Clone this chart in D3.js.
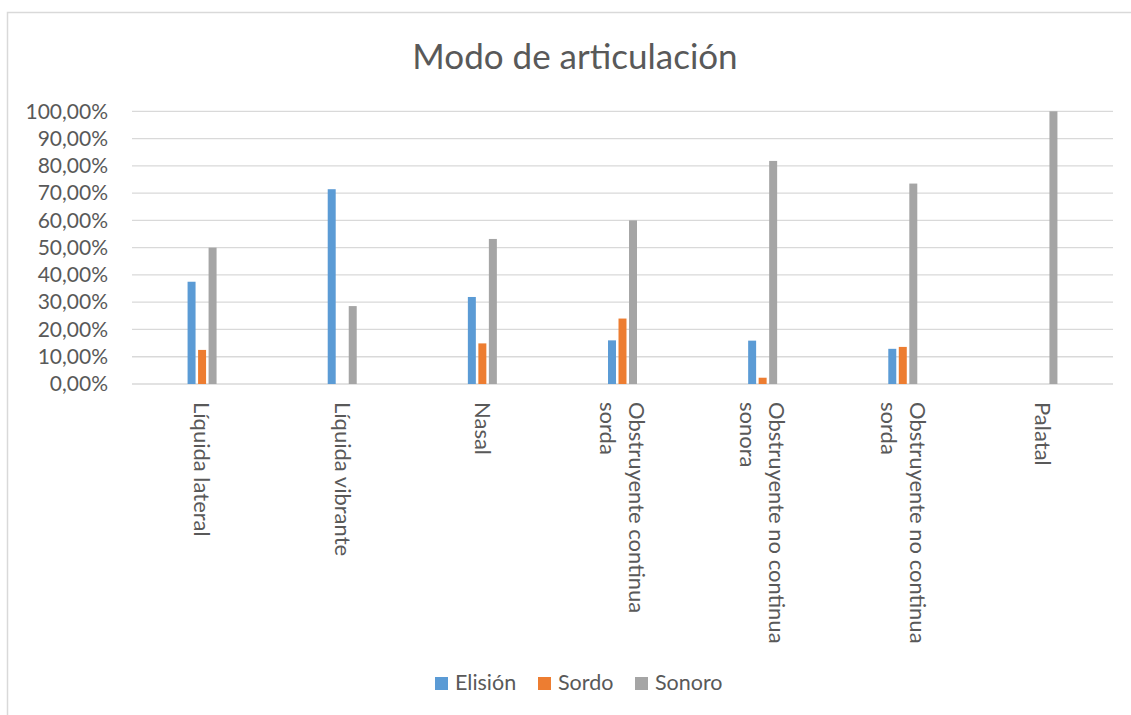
<!DOCTYPE html>
<html>
<head>
<meta charset="utf-8">
<script src="https://cdn.jsdelivr.net/npm/d3@7"></script>
<style>
  html, body { margin: 0; padding: 0; background: #fff; }
  svg { display: block; }
  text { font-family: Lato, "Open Sans", sans-serif; fill: #595959; }
</style>
</head>
<body>
<script>
// Categories (each entry is a list of label lines), series and tick values
const categories = [
  ["Líquida lateral"],
  ["Líquida vibrante"],
  ["Nasal"],
  ["Obstruyente continua", "sorda"],
  ["Obstruyente no continua", "sonora"],
  ["Obstruyente no continua", "sorda"],
  ["Palatal"]
];
const seriesNames = ["Elisión", "Sordo", "Sonoro"];
const seriesColors = ["#5b9bd5", "#ed7d31", "#a5a5a5"];
const elision = [0.375, 0.7143, 0.3191, 0.16, 0.159, 0.129, 0];
const sordo   = [0.125, 0, 0.1489, 0.24, 0.023, 0.136, 0];
const sonoro  = [0.50, 0.2857, 0.5319, 0.60, 0.818, 0.735, 1.0];
const yTicks = [0, 0.1, 0.2, 0.3, 0.4, 0.5, 0.6, 0.7, 0.8, 0.9, 1.0];
const title = "Modo de articulación";

const W = 1131, H = 715;
const plot = { left: 132, right: 1113, top: 111.3, bottom: 384 };

const svg = d3.select("body").append("svg").attr("width", W).attr("height", H);

// Chart frame
svg.append("rect")
  .attr("x", 7.5).attr("y", 12.5)
  .attr("width", W + 20).attr("height", H + 20)
  .attr("fill", "none").attr("stroke", "#d9d9d9").attr("stroke-width", 1.5);

// Title
svg.append("text")
  .attr("x", 575).attr("y", 69)
  .attr("text-anchor", "middle")
  .style("font-size", "35px")
  .text(title);

const x = d3.scaleBand()
  .domain(d3.range(categories.length))
  .range([plot.left, plot.right])
  .padding(0);

const y = d3.scaleLinear().domain([0, 1]).range([plot.bottom, plot.top]);

const xs = d3.scaleBand()
  .domain(seriesNames)
  .range([-14.5, 14.5])
  .paddingInner(0.24);

const locale = d3.formatLocale({ decimal: ",", thousands: ".", grouping: [3], currency: ["", "€"] });
const pct = locale.format(".2%");

// Gridlines
svg.append("g")
  .selectAll("line")
  .data(yTicks)
  .join("line")
  .attr("x1", plot.left).attr("x2", plot.right)
  .attr("y1", d => y(d)).attr("y2", d => y(d))
  .attr("stroke", "#d9d9d9").attr("stroke-width", 1.3);

// Y axis labels
const yAxis = d3.axisLeft(y).tickValues(yTicks).tickFormat(pct).tickSize(0).tickPadding(0);
const yg = svg.append("g").attr("transform", "translate(108,0)").call(yAxis);
yg.select(".domain").remove();
yg.selectAll("text")
  .style("font-size", "21px")
  .style("font-family", "Lato, 'Open Sans', sans-serif")
  .attr("fill", "#595959");

// Bars
const series = [elision, sordo, sonoro];
series.forEach((vals, si) => {
  svg.append("g")
    .selectAll("rect")
    .data(vals)
    .join("rect")
    .attr("x", (d, i) => x(i) + x.bandwidth() / 2 + xs(seriesNames[si]))
    .attr("width", xs.bandwidth())
    .attr("y", d => y(d))
    .attr("height", d => y(0) - y(d))
    .attr("fill", seriesColors[si]);
});

// Category labels, rotated to read top to bottom
const lineH = 29;
const labelSize = 22;
const lab = svg.append("g")
  .selectAll("text")
  .data(categories)
  .join("text")
  .attr("transform", (d, i) => `translate(${x(i) + x.bandwidth() / 2},402) rotate(90)`)
  .attr("text-anchor", "start")
  .style("font-size", labelSize + "px");
lab.each(function(lines) {
  const t = d3.select(this);
  lines.forEach((ln, k) => {
    const off = (k - (lines.length - 1) / 2) * lineH;
    t.append("tspan")
      .attr("x", 0)
      .attr("y", off + labelSize * 0.35)
      .text(ln);
  });
});

// Legend
const legendItems = [
  { name: seriesNames[0], color: seriesColors[0], x: 435 },
  { name: seriesNames[1], color: seriesColors[1], x: 538 },
  { name: seriesNames[2], color: seriesColors[2], x: 635 }
];
const lg = svg.append("g").selectAll("g").data(legendItems).join("g")
  .attr("transform", d => `translate(${d.x},677)`);
lg.append("rect").attr("width", 13).attr("height", 13).attr("fill", d => d.color);
lg.append("text")
  .attr("x", 20).attr("y", 13)
  .style("font-size", "21.5px")
  .text(d => d.name);
</script>
</body>
</html>
